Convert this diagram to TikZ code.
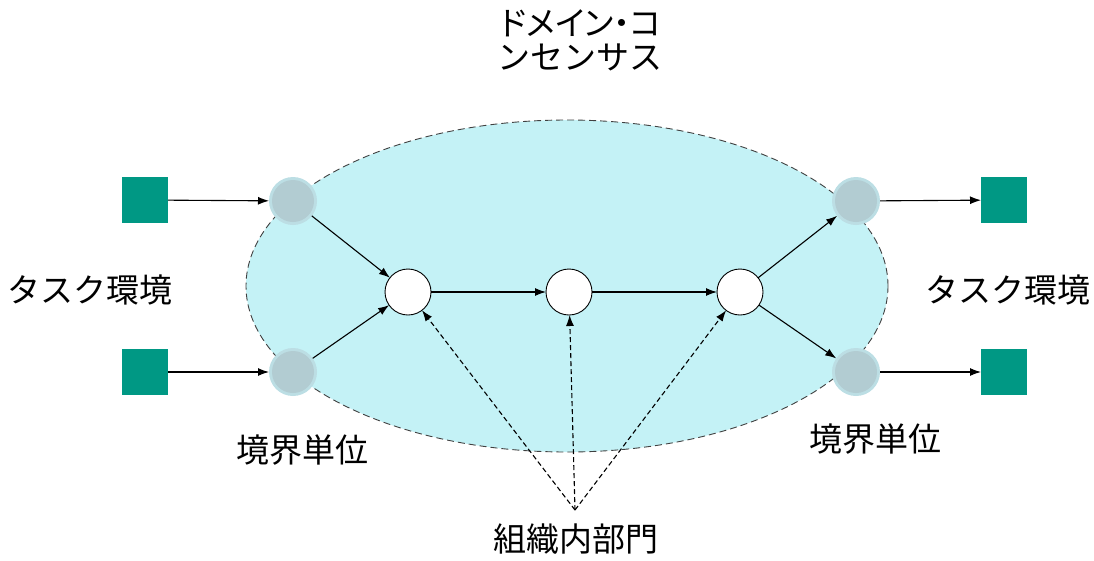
\documentclass[tikz,border=0pt]{standalone}
\usepackage{fontspec}
\setmainfont{Noto Sans CJK JP}
\newfontfamily\paltfont[RawFeature=+palt]{Noto Sans CJK JP}
\usetikzlibrary{arrows.meta}
\definecolor{ellfill}{RGB}{196,242,246}
\definecolor{teal2}{RGB}{0,152,132}
\definecolor{blob}{RGB}{178,204,210}
\definecolor{blobsoft}{RGB}{188,222,228}
\tikzset{
  every node/.style={inner sep=0pt, outer sep=0pt},
  envbox/.style={rectangle, fill=teal2, minimum width=46pt, minimum height=46pt},
  bunit/.style={circle, fill=blob, minimum size=42pt},
  bhalo/.style={circle, fill=blobsoft, minimum size=48pt},
  dept/.style={circle, draw=black, fill=white, line width=0.9pt, minimum size=46pt},
  lbl/.style={font=\fontsize{33}{40}\selectfont, text=black},
  arr/.style={line width=1.1pt, -{Latex[length=11pt,width=8pt]}},
  darr/.style={line width=1.1pt, dash pattern=on 5pt off 3pt, -{Latex[length=11pt,width=8pt]}},
}
\begin{document}
\begin{tikzpicture}[x=1pt,y=-1pt]
\useasboundingbox (0,0) rectangle (1094,560);
% ellipse
\draw[fill=ellfill, draw=black!75, line width=0.9pt, dash pattern=on 7pt off 4pt] (567,286) ellipse [x radius=321, y radius=166];
% title
\node[lbl] (title1) at (581,23) {\paltfont ドメイン・コ};
\node[lbl] (title2) at (580,57) {ンセンサス};
% squares
\node[envbox] (sL1) at (145,200) {};
\node[envbox] (sL2) at (145,372) {};
\node[envbox] (sR1) at (1004,200) {};
\node[envbox] (sR2) at (1004,372) {};
% boundary units (soft halo + core)
\node[bhalo] (hL1) at (293,201) {};
\node[bhalo] (hL2) at (293,372) {};
\node[bhalo] (hR1) at (856,201) {};
\node[bhalo] (hR2) at (856,372) {};
\node[bunit] (bL1) at (293,201) {};
\node[bunit] (bL2) at (293,372) {};
\node[bunit] (bR1) at (856,201) {};
\node[bunit] (bR2) at (856,372) {};
% departments
\node[dept] (d1) at (408,292) {};
\node[dept] (d2) at (569,292) {};
\node[dept] (d3) at (740,292) {};
% labels
\node[lbl] (tL) at (90,290) {タスク環境};
\node[lbl] (tR) at (1008,290) {タスク環境};
\node[lbl] (uL) at (302,450) {境界単位};
\node[lbl] (uR) at (875,439) {境界単位};
\node[lbl] (org) at (576,539) {組織内部門};
\coordinate (src) at (575,510);
% arrows
\draw[arr] (sL1) -- (hL1);
\draw[arr] (sL2) -- (hL2);
\draw[arr] (hR1) -- (sR1);
\draw[arr] (hR2) -- (sR2);
\draw[arr] (hL1) -- (d1);
\draw[arr] (hL2) -- (d1);
\draw[arr] (d1) -- (d2);
\draw[arr] (d2) -- (d3);
\draw[arr] (d3) -- (hR1);
\draw[arr] (d3) -- (hR2);
\draw[darr] (src) -- (d1);
\draw[darr] (src) -- (d2);
\draw[darr] (src) -- (d3);
\end{tikzpicture}
\end{document}
